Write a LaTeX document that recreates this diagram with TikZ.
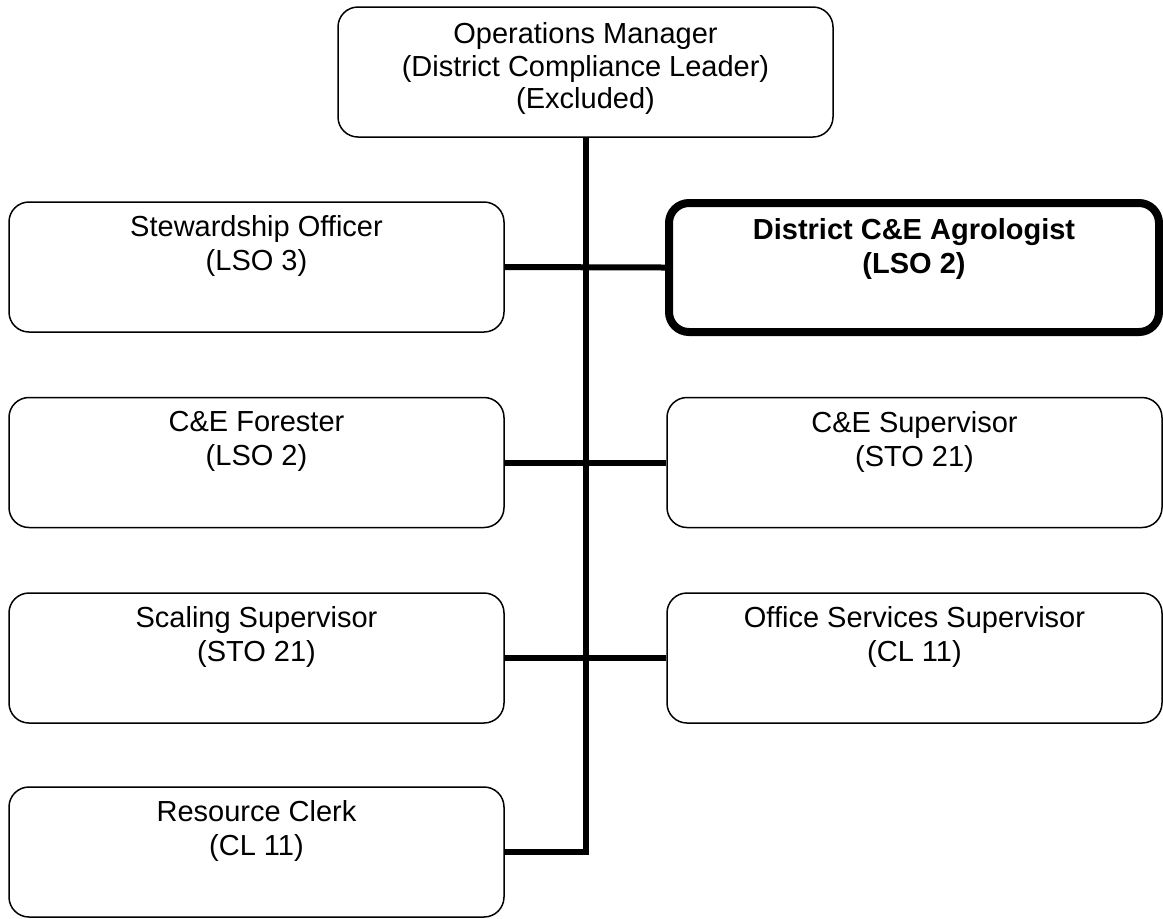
\documentclass[tikz,border=0pt]{standalone}
\usepackage{fontspec}
\setmainfont{Liberation Sans}
\usetikzlibrary{positioning}

\begin{document}
\begin{tikzpicture}[x=0.5pt,y=-0.5pt,
  orgbox/.style={draw,rounded corners=10pt,line width=0.75pt,
    minimum width=247.5pt,minimum height=65pt,inner sep=0pt},
  keybox/.style={orgbox,line width=4pt,minimum width=245pt,minimum height=64.5pt},
  boxtext/.style={align=center,anchor=north,inner sep=0pt,yshift=-7pt,
    font=\fontsize{14.5}{17}\selectfont},
  link/.style={line width=3pt}]
  \useasboundingbox (0,0) rectangle (1163,918);
  % top of the chart
  \node[orgbox] (ops) at (585.5,72)
    [label={[boxtext,yshift=-1pt,font=\fontsize{14.5}{16.3}\selectfont]north:{Operations Manager\\(District Compliance Leader)\\(Excluded)}}] {};
  % left column
  \node[orgbox] (stew) at (256.5,267)
    [label={[boxtext]north:{Stewardship Officer\\(LSO 3)}}] {};
  \node[orgbox] (forester) at (256.5,462.5)
    [label={[boxtext]north:{C\&E Forester\\(LSO 2)}}] {};
  \node[orgbox] (scaling) at (256.5,658)
    [label={[boxtext]north:{Scaling Supervisor\\(STO 21)}}] {};
  \node[orgbox] (clerk) at (256.5,852)
    [label={[boxtext]north:{Resource Clerk\\(CL 11)}}] {};
  % right column
  \node[keybox] (agro) at (914,267.5)
    [label={[boxtext,yshift=-2.5pt,font=\fontsize{14.5}{17}\selectfont\bfseries]north:{District C\&E Agrologist\\(LSO 2)}}] {};
  \node[orgbox] (cesup) at (914.5,462.5)
    [label={[boxtext]north:{C\&E Supervisor\\(STO 21)}}] {};
  \node[orgbox] (office) at (914.5,658)
    [label={[boxtext]north:{Office Services Supervisor\\(CL 11)}}] {};
  % connectors
  \draw[link] (ops.south) -- (ops.south |- clerk.east) -- (clerk.east);
  \draw[link] (stew.east) -- (agro.west);
  \draw[link] (forester.east) -- (cesup.west);
  \draw[link] (scaling.east) -- (office.west);
\end{tikzpicture}
\end{document}
